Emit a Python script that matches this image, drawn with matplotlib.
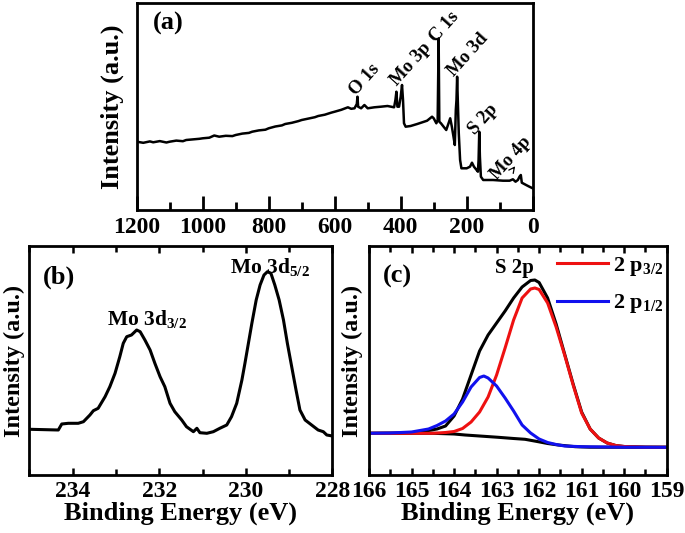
import matplotlib
matplotlib.use("Agg")
import matplotlib.pyplot as plt
from matplotlib.ticker import MultipleLocator

plt.rcParams["font.family"] = ["Liberation Serif", "DejaVu Serif"]
plt.rcParams["font.weight"] = "bold"
plt.rcParams["mathtext.fontset"] = "custom"
plt.rcParams["mathtext.rm"] = "Liberation Serif:bold"
plt.rcParams["mathtext.it"] = "Liberation Serif:bold"
plt.rcParams["mathtext.bf"] = "Liberation Serif:bold"
plt.rcParams["mathtext.default"] = "rm"
plt.rcParams["axes.linewidth"] = 2.0

# ---------------------------------------------------------------------------
# (a) survey spectrum
# ---------------------------------------------------------------------------
survey_be = [1200, 1180, 1160, 1150, 1130, 1110, 1100, 1080, 1060, 1050, 1030,
             1010, 1000, 980, 965, 950, 930, 910, 900, 880, 860, 850, 830, 810,
             800, 780, 760, 750, 730, 710, 700, 680, 660, 650, 630, 610, 600,
             580, 560, 550, 540, 533, 531, 529, 520, 510, 500, 480, 460, 440,
             420, 416, 413, 410, 405, 400, 396, 393, 390, 385, 370, 350, 320,
             305, 300, 292, 288, 285, 283, 278, 270, 262, 255, 250, 245, 240,
             236, 233, 231, 229, 227, 224, 220, 216, 200, 190, 184, 178, 170,
             166, 164, 162, 160, 157, 150, 120, 90, 70, 60, 52, 45, 40, 36, 33,
             20, 10, 0]
survey_int = [68.3, 67.2, 68.6, 67.7, 68.9, 67.5, 68.3, 69.4, 68.8, 70, 70.6,
              71.2, 71.7, 72.3, 74.5, 73.3, 74.2, 73.9, 75, 76.4, 77.1, 78.3,
              79.6, 80.3, 81.7, 83.5, 84.6, 86, 87.2, 88.9, 90, 91.4, 92.8, 94,
              95.3, 97.4, 98.3, 100.2, 102.7, 101.2, 101.7, 106, 113.3, 103.3,
              101.7, 105, 101.7, 102.7, 103.3, 104, 102.7, 110, 118.3, 103.3,
              103.3, 113.3, 125, 110, 86.7, 83.3, 84, 86, 89.3, 93.3, 91.7,
              86.7, 90, 171.7, 88.3, 86.7, 83.3, 80, 86.7, 91.7, 83.3, 73.3,
              65, 100, 110, 133.3, 110, 76.7, 50, 41.7, 41.7, 43.3, 47.3, 43.3,
              40, 38.3, 50, 78.3, 53.3, 33.3, 30, 30, 29.3, 29.3, 30.7, 28.3,
              30, 33.3, 35, 27.3, 25, 23.3, 21.7]

survey_labels = ["O 1s", "Mo 3p", "C 1s", "Mo 3d", "S 2p", "Mo 4p"]
survey_label_be = [510, 368, 269, 196, 150, 65]
survey_label_int = [130, 146, 183, 155, 91, 52]

# ---------------------------------------------------------------------------
# (b) Mo 3d high resolution
# ---------------------------------------------------------------------------
mo_be = [235.0, 234.98, 234.33, 234.25, 234.10, 233.87, 233.75, 233.60, 233.52,
         233.41, 233.25, 233.14, 233.02, 232.91, 232.83, 232.75, 232.64,
         232.52, 232.44, 232.33, 232.21, 232.10, 231.98, 231.87, 231.75,
         231.64, 231.48, 231.37, 231.21, 231.13, 231.06, 230.90, 230.75,
         230.60, 230.44, 230.33, 230.21, 230.09, 230.02, 229.94, 229.86,
         229.76, 229.67, 229.58, 229.50, 229.42, 229.33, 229.23, 229.13,
         229.04, 228.94, 228.84, 228.75, 228.63, 228.48, 228.33, 228.21,
         228.13, 228.0]
mo_int = [45.5, 45.7, 45, 51, 51.7, 51.7, 53.3, 60, 64.3, 66.7, 78.3, 88.3,
          101.7, 118.3, 131.7, 138.3, 140, 145, 143.3, 135, 125, 111.7, 98.3,
          88.3, 71.7, 63.3, 55, 48.3, 43.3, 46.7, 42.3, 41.7, 43.3, 46.7, 50,
          58.3, 71.7, 95, 111.7, 131.7, 151.7, 175, 190, 200, 203.3, 201.7,
          190, 175, 155, 131.7, 108.3, 85, 65, 55, 50, 45, 43.3, 40, 39]

# ---------------------------------------------------------------------------
# (c) S 2p high resolution with fitted components
# ---------------------------------------------------------------------------
s_env_be = [166.0, 165.0, 164.8, 164.6, 164.4, 164.2, 164.0, 163.8, 163.6,
            163.4, 163.2, 163.0, 162.8, 162.6, 162.4, 162.2, 162.1, 162.0,
            161.8, 161.6, 161.4, 161.2, 161.0, 160.8, 160.6, 160.4, 160.2,
            160.0, 159.5, 159.0]
s_env_int = [41.7, 42, 43, 44.5, 46, 49, 59, 76, 100, 124, 140, 152, 164,
             177, 188, 194.5, 195, 192.5, 177, 151, 121, 91, 63, 46, 37, 32,
             29.5, 28.5, 27.8, 27.7]

s_p32_be = [166.0, 165.0, 164.5, 164.2, 164.0, 163.8, 163.6, 163.4, 163.2,
            163.0, 162.8, 162.6, 162.4, 162.2, 162.1, 162.0, 161.8, 161.6,
            161.4, 161.2, 161.0, 160.8, 160.6, 160.4, 160.2, 160.0, 159.5,
            159.0]
s_p32_int = [41.7, 41.7, 41.7, 42.5, 43.5, 46.5, 53, 63, 78, 100, 127, 155,
             177, 186, 187, 185.5, 172, 148, 120, 90, 62, 46, 37, 32, 29.5,
             28.5, 27.8, 27.7]

s_p12_be = [166.0, 165.5, 165.0, 164.8, 164.6, 164.4, 164.2, 164.0, 163.8,
            163.6, 163.4, 163.3, 163.2, 163.0, 162.8, 162.6, 162.4, 162.2,
            162.0, 161.8, 161.6, 161.4, 161.0, 160.0, 159.0]
s_p12_int = [41.7, 42, 43, 44.5, 46, 49.5, 54, 61, 73, 88, 97.5, 99, 97, 89,
             77, 64, 50, 42, 36, 32.5, 30.5, 29, 28.3, 27.8, 27.7]

s_bg_be = [166.0, 164.5, 164.0, 163.74, 163.4, 162.96, 162.6, 162.33, 162.02,
           161.8, 161.55, 161.15, 160.8, 159.0]
s_bg_int = [41.7, 41.7, 41, 40, 39, 37.7, 36.5, 35.7, 33.3, 31.5, 30, 28.3,
            27.8, 27.7]

W, H = 685, 533


def px_axes(left, top, right, bottom):
    return [left / W, (H - bottom) / H, (right - left) / W, (bottom - top) / H]


fig = plt.figure(figsize=(6.85, 5.33), dpi=100)

# ---- panel (a)
ax_a = fig.add_axes(px_axes(136.7, 3, 532.7, 210))
ax_a.plot(survey_be, survey_int, color="black", lw=1.8)
ax_a.set_xlim(1200, 0)
ax_a.set_ylim(0, 207)
ax_a.set_yticks([])
ax_a.xaxis.set_major_locator(MultipleLocator(200))
ax_a.xaxis.set_minor_locator(MultipleLocator(100))
ax_a.tick_params(axis="x", which="major", direction="in", length=10, width=2,
                 labelsize=17, pad=5)
ax_a.tick_params(axis="x", which="minor", direction="in", length=5.5, width=2)
ax_a.set_ylabel("Intensity (a.u.)", fontsize=19, fontweight="bold", labelpad=9)
ax_a.text(0.079, 0.9, "(a)", transform=ax_a.transAxes, fontsize=19,
          fontweight="bold", ha="center", va="center")
for lab, xb, yi in zip(survey_labels, survey_label_be, survey_label_int):
    ax_a.text(xb, yi, lab, rotation=48, fontsize=13.5, fontweight="bold",
              ha="center", va="center")
ax_a.annotate("", xy=(48, 46), xytext=(64, 39),
              arrowprops=dict(arrowstyle="->", lw=0.9, color="black"))

# ---- panel (b)
ax_b = fig.add_axes(px_axes(29.3, 246, 332.4, 475))
ax_b.plot(mo_be, mo_int, color="black", lw=2.2)
ax_b.set_xlim(235, 228)
ax_b.set_ylim(0, 229)
ax_b.set_yticks([])
ax_b.xaxis.set_major_locator(MultipleLocator(2))
ax_b.xaxis.set_minor_locator(MultipleLocator(1))
ax_b.tick_params(axis="x", which="both", direction="in", top=True, width=1.8,
                 labelsize=17, pad=4)
ax_b.tick_params(axis="x", which="major", length=5)
ax_b.tick_params(axis="x", which="minor", length=4.5)
ax_b.set_xlabel("Binding Energy (eV)", fontsize=19, fontweight="bold", labelpad=0)
ax_b.set_ylabel("Intensity (a.u.)", fontsize=17.5, fontweight="bold", labelpad=3)
ax_b.text(0.098, 0.862, "(b)", transform=ax_b.transAxes, fontsize=19,
          fontweight="bold", ha="center", va="center")
ax_b.text(0.255, 0.655, r"Mo 3d$_{3/2}$", transform=ax_b.transAxes,
          fontsize=15.5, fontweight="bold", ha="left", va="baseline")
ax_b.text(0.662, 0.882, r"Mo 3d$_{5/2}$", transform=ax_b.transAxes,
          fontsize=15.5, fontweight="bold", ha="left", va="baseline")

# ---- panel (c)
ax_c = fig.add_axes(px_axes(369, 246, 666.7, 475))
ax_c.plot(s_env_be, s_env_int, color="black", lw=2.2)
ax_c.plot(s_bg_be, s_bg_int, color="black", lw=2.2)
ax_c.plot(s_p32_be, s_p32_int, color="#ee1111", lw=2.2, label=r"2 p$_{3/2}$")
ax_c.plot(s_p12_be, s_p12_int, color="#1111ee", lw=2.2, label=r"2 p$_{1/2}$")
ax_c.set_xlim(166, 159)
ax_c.set_ylim(0, 229)
ax_c.set_yticks([])
ax_c.xaxis.set_major_locator(MultipleLocator(1))
ax_c.xaxis.set_minor_locator(MultipleLocator(0.5))
ax_c.tick_params(axis="x", which="both", direction="in", top=True, width=1.8,
                 labelsize=17, pad=4)
ax_c.tick_params(axis="x", which="major", length=5)
ax_c.tick_params(axis="x", which="minor", length=4.5)
ax_c.set_xlabel("Binding Energy (eV)", fontsize=19, fontweight="bold", labelpad=0)
ax_c.set_ylabel("Intensity (a.u.)", fontsize=17.5, fontweight="bold", labelpad=4)
ax_c.text(0.097, 0.869, "(c)", transform=ax_c.transAxes, fontsize=19,
          fontweight="bold", ha="center", va="center")
ax_c.text(0.49, 0.904, "S 2p", transform=ax_c.transAxes, fontsize=15,
          fontweight="bold", ha="center", va="center")
ax_c.legend(loc="upper left", bbox_to_anchor=(0.6, 1.0), frameon=False,
            fontsize=16, handlelength=2.3, handletextpad=0.25,
            labelspacing=0.65, borderaxespad=0.2, borderpad=0.2)

fig.savefig("out.png", dpi=100)
